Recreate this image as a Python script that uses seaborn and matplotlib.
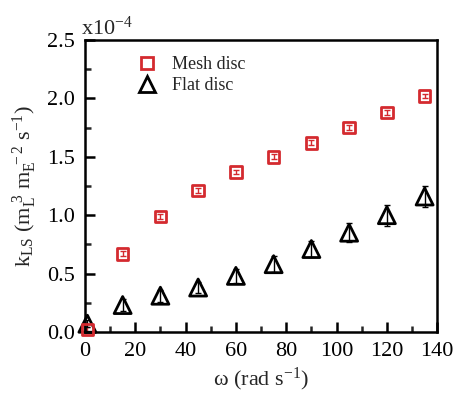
import seaborn as sns
import matplotlib.pyplot as plt
from matplotlib.lines import Line2D
from matplotlib.ticker import MultipleLocator

# angular velocity (rad/s)
omega = [1, 15, 30, 45, 60, 75, 90, 105, 120, 135]
# kLS values, x1e-4
mesh_k = [0.02, 0.67, 0.99, 1.21, 1.37, 1.50, 1.62, 1.75, 1.88, 2.02]
mesh_err = [0.02, 0.02, 0.02, 0.02, 0.02, 0.02, 0.02, 0.02, 0.02, 0.02]
flat_k = [0.07, 0.23, 0.31, 0.38, 0.48, 0.58, 0.71, 0.85, 1.00, 1.16]
flat_err = [0.03, 0.05, 0.05, 0.05, 0.06, 0.07, 0.07, 0.08, 0.09, 0.09]

red = '#d42a2f'

sns.set_theme(style="ticks")
plt.rcParams['font.family'] = ['Liberation Serif', 'DejaVu Serif']
plt.rcParams['mathtext.fontset'] = 'custom'
plt.rcParams['mathtext.rm'] = 'Liberation Serif'
plt.rcParams['mathtext.it'] = 'Liberation Serif'
plt.rcParams['mathtext.default'] = 'rm'

fig = plt.figure(figsize=(4.54, 3.97), dpi=100)
ax = fig.add_axes([0.187, 0.164, 0.776, 0.735])

ax.errorbar(omega, mesh_k, yerr=mesh_err, fmt='none', ecolor=red,
            elinewidth=1, capsize=2.5, zorder=2, clip_on=False)
ax.errorbar(omega, flat_k, yerr=flat_err, fmt='none', ecolor='black',
            elinewidth=1, capsize=2.5, zorder=2, clip_on=False)

sns.scatterplot(x=omega, y=mesh_k, marker='s', s=70, facecolor='none',
                edgecolor=red, linewidth=2, ax=ax, zorder=4, legend=False,
                clip_on=False)
sns.scatterplot(x=omega, y=flat_k, marker='^', s=150, facecolor='none',
                edgecolor='black', linewidth=2, ax=ax, zorder=3, legend=False,
                clip_on=False)

ax.set_xlim(0, 140)
ax.set_ylim(0, 2.5)
ax.xaxis.set_major_locator(MultipleLocator(20))
ax.xaxis.set_minor_locator(MultipleLocator(10))
ax.yaxis.set_major_locator(MultipleLocator(0.5))
ax.yaxis.set_minor_locator(MultipleLocator(0.25))
ax.yaxis.set_major_formatter(plt.FormatStrFormatter('%.1f'))
ax.tick_params(which='major', direction='in', length=7, width=1.8, labelsize=16,
               pad=7, colors='black')
ax.tick_params(which='minor', direction='in', length=4.5, width=1.8)
for sp in ax.spines.values():
    sp.set_linewidth(1.8)
    sp.set_color('black')
    sp.set_visible(True)

ax.set_xlabel('ω (rad s$^{-1}$)', fontsize=16, labelpad=4)
ax.set_ylabel(r'k$_{LS}$ (m$_{L}^{\,\,3}$ m$_{E}^{\,\,-2}$ s$^{-1}$)', fontsize=16,
              labelpad=6)
ax.text(-0.01, 1.0, r'x10$^{-4}$', transform=ax.transAxes, fontsize=16,
        va='bottom', ha='left')

handles = [
    Line2D([], [], ls='none', marker='s', ms=8, mfc='none', mec=red, mew=2),
    Line2D([], [], ls='none', marker='^', ms=11, mfc='none', mec='black', mew=2),
]
ax.legend(handles, ['Mesh disc', 'Flat disc'], loc='upper left',
          bbox_to_anchor=(0.10, 1.0), frameon=False, fontsize=13,
          handletextpad=0.8, labelspacing=0.2, handlelength=1.2)

fig.savefig('out.png', dpi=100)
